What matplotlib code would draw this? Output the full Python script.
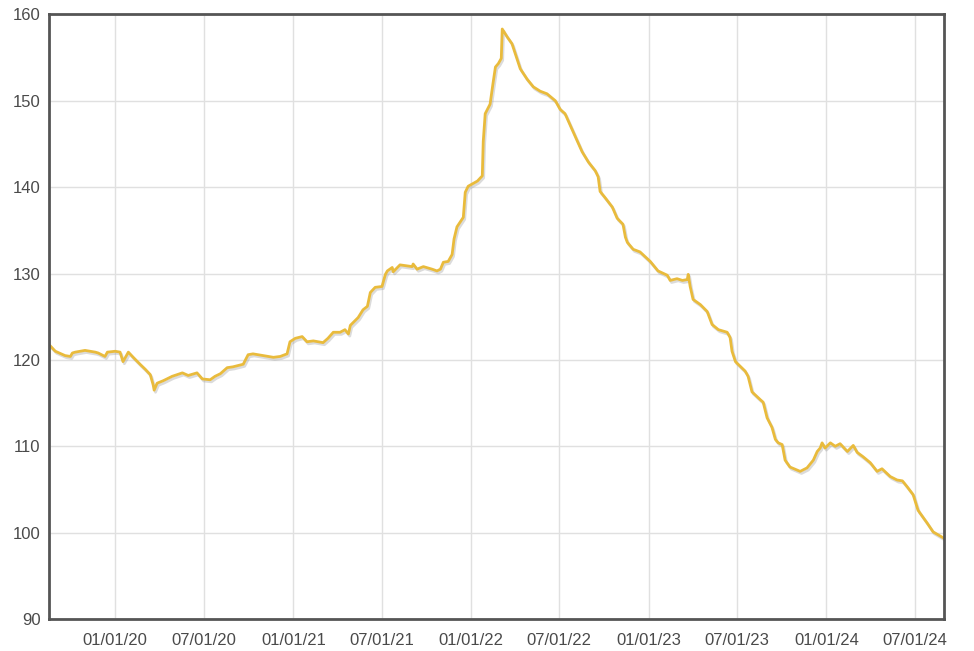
import matplotlib
matplotlib.use("Agg")
import matplotlib.pyplot as plt
import matplotlib.dates as mdates
import matplotlib.patheffects as pe
import pandas as pd

# values
dates = [
    "2019-08-21", "2019-08-31", "2019-09-20", "2019-10-01", "2019-10-05", "2019-10-11",
    "2019-10-31", "2019-11-21", "2019-11-27", "2019-12-11", "2019-12-16", "2020-01-01",
    "2020-01-11", "2020-01-17", "2020-01-28", "2020-02-07", "2020-02-21", "2020-03-03",
    "2020-03-13", "2020-03-19", "2020-03-21", "2020-03-27", "2020-04-09", "2020-04-27",
    "2020-05-18", "2020-05-30", "2020-06-17", "2020-06-28", "2020-07-14", "2020-07-24",
    "2020-08-04", "2020-08-18", "2020-08-30", "2020-09-20", "2020-09-30", "2020-10-10",
    "2020-10-31", "2020-11-21", "2020-12-05", "2020-12-19", "2020-12-25", "2021-01-05",
    "2021-01-19", "2021-01-29", "2021-02-11", "2021-03-03", "2021-03-13", "2021-03-24",
    "2021-04-07", "2021-04-17", "2021-04-24", "2021-04-28", "2021-05-14", "2021-05-24",
    "2021-06-02", "2021-06-08", "2021-06-18", "2021-07-02", "2021-07-09", "2021-07-13",
    "2021-07-23", "2021-07-25", "2021-08-08", "2021-09-02", "2021-09-04", "2021-09-12",
    "2021-09-25", "2021-10-13", "2021-10-23", "2021-10-30", "2021-11-05", "2021-11-15",
    "2021-11-23", "2021-11-27", "2021-12-03", "2021-12-16", "2021-12-20", "2021-12-26",
    "2022-01-14", "2022-01-24", "2022-01-26", "2022-01-30", "2022-02-09", "2022-02-15",
    "2022-02-20", "2022-02-26", "2022-03-04", "2022-03-06", "2022-03-16", "2022-03-26",
    "2022-04-02", "2022-04-12", "2022-04-26", "2022-05-09", "2022-05-23", "2022-06-06",
    "2022-06-23", "2022-07-03", "2022-07-13", "2022-07-24", "2022-08-05", "2022-08-17",
    "2022-08-30", "2022-09-13", "2022-09-19", "2022-09-23", "2022-10-03", "2022-10-18",
    "2022-10-28", "2022-11-09", "2022-11-14", "2022-11-18", "2022-11-30", "2022-12-14",
    "2023-01-04", "2023-01-20", "2023-02-08", "2023-02-14", "2023-02-28", "2023-03-11",
    "2023-03-21", "2023-03-23", "2023-03-27", "2023-04-02", "2023-04-17", "2023-05-01",
    "2023-05-11", "2023-05-24", "2023-06-11", "2023-06-17", "2023-06-21", "2023-06-28",
    "2023-07-18", "2023-07-24", "2023-08-01", "2023-08-18", "2023-08-24", "2023-09-01",
    "2023-09-11", "2023-09-18", "2023-09-24", "2023-10-02", "2023-10-08", "2023-10-18",
    "2023-11-08", "2023-11-22", "2023-12-05", "2023-12-13", "2023-12-19", "2023-12-23",
    "2023-12-29", "2024-01-09", "2024-01-19", "2024-01-29", "2024-02-13", "2024-02-25",
    "2024-03-04", "2024-03-16", "2024-03-31", "2024-04-14", "2024-04-24", "2024-05-11",
    "2024-05-25", "2024-06-05", "2024-06-15", "2024-06-27", "2024-07-07", "2024-07-26",
    "2024-08-07", "2024-08-28",
]
values = [
    121.6, 121.0, 120.5, 120.4, 120.8, 120.9,
    121.1, 120.9, 120.8, 120.4, 120.9, 121.0,
    120.9, 119.8, 120.9, 120.3, 119.5, 118.9,
    118.3, 117.1, 116.5, 117.3, 117.6, 118.1,
    118.5, 118.2, 118.5, 117.8, 117.7, 118.1,
    118.4, 119.1, 119.2, 119.5, 120.6, 120.7,
    120.5, 120.3, 120.4, 120.7, 122.1, 122.5,
    122.7, 122.1, 122.2, 122.0, 122.5, 123.2,
    123.2, 123.5, 123.0, 124.0, 124.9, 125.8,
    126.2, 127.8, 128.4, 128.5, 129.9, 130.3,
    130.7, 130.2, 131.0, 130.8, 131.1, 130.5,
    130.8, 130.5, 130.3, 130.5, 131.3, 131.4,
    132.2, 134.0, 135.4, 136.5, 139.4, 140.1,
    140.7, 141.3, 145.3, 148.5, 149.6, 152.0,
    153.9, 154.3, 154.9, 158.3, 157.4, 156.6,
    155.4, 153.7, 152.5, 151.6, 151.1, 150.8,
    150.0, 149.0, 148.5, 147.1, 145.6, 144.1,
    142.9, 141.9, 141.2, 139.5, 138.8, 137.7,
    136.4, 135.7, 134.2, 133.6, 132.8, 132.5,
    131.4, 130.3, 129.8, 129.2, 129.4, 129.2,
    129.3, 129.9, 128.5, 127.0, 126.4, 125.6,
    124.1, 123.5, 123.2, 122.6, 121.0, 119.8,
    118.7, 118.1, 116.3, 115.4, 115.1, 113.3,
    112.2, 110.8, 110.4, 110.2, 108.4, 107.6,
    107.1, 107.5, 108.4, 109.4, 109.8, 110.4,
    109.8, 110.4, 110.0, 110.3, 109.4, 110.1,
    109.3, 108.8, 108.1, 107.1, 107.4, 106.5,
    106.1, 106.0, 105.3, 104.4, 102.6, 101.1,
    100.1, 99.4,
]
x_ticks = ["2020-01-01", "2020-07-01", "2021-01-01", "2021-07-01", "2022-01-01",
           "2022-07-01", "2023-01-01", "2023-07-01", "2024-01-01", "2024-07-01"]
y_ticks = [90, 100, 110, 120, 130, 140, 150, 160]

plt.rcParams['font.family'] = ['Liberation Sans', 'DejaVu Sans']

fig = plt.figure(figsize=(9.74, 6.51), dpi=100)
ax = fig.add_axes([0.0503, 0.049, 0.9187, 0.929])

ax.plot(pd.to_datetime(dates), values, color="#E9BB3C", lw=2.0, solid_joinstyle="round",
        path_effects=[pe.SimpleLineShadow(offset=(1, -1.5), shadow_color="#999999", alpha=0.35),
                      pe.Normal()])

ax.set_xlim(pd.Timestamp("2019-08-18"), pd.Timestamp("2024-08-29"))
ax.set_ylim(90, 160)
ax.set_xticks(pd.to_datetime(x_ticks))
ax.xaxis.set_major_formatter(mdates.DateFormatter("%m/%d/%y"))
ax.set_yticks(y_ticks)

ax.grid(True, color="#e0e0e0", lw=1)
ax.set_axisbelow(True)
ax.tick_params(length=0, labelsize=12, labelcolor="#4a4a4a")
ax.tick_params(axis="x", pad=10)
ax.tick_params(axis="y", pad=6)
for s in ax.spines.values():
    s.set_color("#555555")
    s.set_linewidth(2.0)

fig.savefig("out.png", dpi=100)
